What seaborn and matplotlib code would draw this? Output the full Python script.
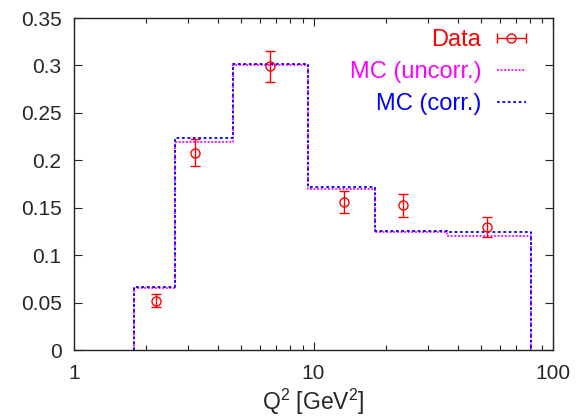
import numpy as np
import pandas as pd
import seaborn as sns
import matplotlib
matplotlib.use("Agg")
import matplotlib.pyplot as plt
from matplotlib.lines import Line2D
from matplotlib.legend_handler import HandlerLine2D, HandlerTuple
from matplotlib.ticker import FixedLocator, FixedFormatter, LogLocator, NullFormatter

# bin edges in Q^2 [GeV^2]
edges = [1.78, 2.64, 4.61, 9.5, 18.1, 36.0, 81.0]
mc_uncorr = [0.065, 0.219, 0.300, 0.170, 0.124, 0.120]
mc_corr = [0.066, 0.223, 0.301, 0.1715, 0.1254, 0.124]

# data points
data_q2 = [2.19, 3.20, 6.60, 13.4, 23.7, 53.2]
data_val = [0.052, 0.208, 0.299, 0.156, 0.1525, 0.1297]
data_err = [0.007, 0.014, 0.016, 0.012, 0.012, 0.011]

sns.set_style("ticks")
plt.rcParams['font.family'] = ['Liberation Sans', 'DejaVu Sans']
plt.rcParams['mathtext.default'] = 'regular'
fs = 15


def step_frame(vals):
    # histogram outline dropping to zero at both ends
    x = [edges[0]] + list(edges) + [edges[-1]]
    y = [0] + list(vals) + [vals[-1], 0]
    return pd.DataFrame({"x": x, "y": y})


fig = plt.figure(figsize=(5.81, 4.19), dpi=100)
ax = fig.add_axes([74 / 581, 1 - 350 / 419, (553 - 74) / 581, (350 - 18) / 419])

ax.errorbar(data_q2, data_val, yerr=data_err, fmt='o', mfc='none', mec='red',
            ecolor='red', color='red', ms=6.5, mew=1, elinewidth=1, capsize=3.5,
            capthick=1, zorder=3)

sns.lineplot(data=step_frame(mc_uncorr), x="x", y="y", estimator=None, sort=False,
             drawstyle='steps-post', color='#ff00ff', lw=1.3,
             linestyle=(0, (1, 1)), ax=ax)
sns.lineplot(data=step_frame(mc_corr), x="x", y="y", estimator=None, sort=False,
             drawstyle='steps-post', color='blue', lw=1.3,
             linestyle=(0, (1.5, 1.5)), ax=ax)

ax.set_xscale('log')
ax.set_xlim(1, 100)
ax.set_ylim(0, 0.35)
ax.xaxis.set_major_locator(FixedLocator([1, 10, 100]))
ax.xaxis.set_major_formatter(FixedFormatter(['1', '10', '100']))
ax.xaxis.set_minor_locator(LogLocator(base=10, subs=np.arange(2, 10)))
ax.xaxis.set_minor_formatter(NullFormatter())
yt = np.arange(0, 0.351, 0.05)
ax.set_yticks(yt)
ax.set_yticklabels(['%g' % round(v, 2) for v in yt])

for s in ax.spines.values():
    s.set_visible(True)
    s.set_color('#222222')
    s.set_linewidth(1)
ax.tick_params(which='both', direction='in', top=True, right=True,
               labelsize=fs, color='#222222')
ax.tick_params(axis='x', which='major', pad=10)
ax.tick_params(axis='y', which='major', pad=9)
ax.tick_params(which='major', length=6, width=0.8)
ax.tick_params(which='minor', length=3.5, width=0.8)

ax.set_xlabel('Q$^2$ [GeV$^2$]', fontsize=16.5, labelpad=3)
ax.set_ylabel('')

h_data_line = Line2D([], [], color='red', lw=1, marker='o', mfc='none', mec='red', ms=6.5)
h_caps = Line2D([], [], color='red', ls='none', marker='|', ms=7, mew=1)
h_unc = Line2D([], [], color='#ff00ff', lw=1.3, linestyle=(0, (1, 1)))
h_cor = Line2D([], [], color='blue', lw=1.3, linestyle=(0, (1.5, 1.5)))
leg = ax.legend([(h_data_line, h_caps), h_unc, h_cor],
                ['Data', 'MC (uncorr.)', 'MC (corr.)'],
                handler_map={tuple: HandlerTuple(ndivide=1),
                             h_data_line: HandlerLine2D(numpoints=1),
                             h_caps: HandlerLine2D(numpoints=2, marker_pad=0)},
                loc='upper right', bbox_to_anchor=(0.944, 0.967), frameon=False,
                borderaxespad=0, borderpad=0,
                markerfirst=False, fontsize=17, handlelength=1.25,
                handletextpad=0.65, labelspacing=0.42,
                labelcolor=['red', '#ff00ff', 'blue'])

fig.savefig('out.png', dpi=100)
